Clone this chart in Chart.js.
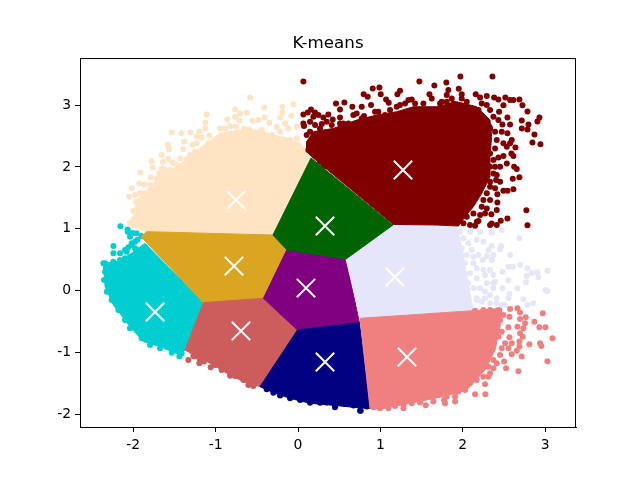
<!DOCTYPE html>
<html>
<head>
<meta charset="utf-8">
<style>
  html, body { margin: 0; padding: 0; background: #fff; }
  canvas { display: block; }
</style>
<script src="https://cdn.jsdelivr.net/npm/chart.js@4"></script>
</head>
<body>
<canvas id="chart" width="640" height="480"></canvas>
<script>
const xTicks = [-2, -1, 0, 1, 2, 3];
const yTicks = [-2, -1, 0, 1, 2, 3];
const xTickLabels = ['-2', '-1', '0', '1', '2', '3'];
const yTickLabels = ['-2', '-1', '0', '1', '2', '3'];
const chartTitle = 'K-means';

// centroides (marcas blancas)
const centroids = [[-0.752, 1.464], [1.274, 1.95], [0.328, 1.044], [-0.777, 0.396], [0.097, 0.04],
  [1.177, 0.218], [-1.735, -0.348], [-0.692, -0.655], [0.328, -1.157], [1.323, -1.076]];

// zona densa de cada cluster (contorno) y puntos sueltos alrededor
const creamHull = [[-0.3, 0.9], [0.158, 2.144], [0.024, 2.387], [-0.134, 2.467], [-0.3, 2.516], [-0.461, 2.597],
  [-0.704, 2.597], [-0.947, 2.549], [-1.105, 2.387], [-1.311, 2.192], [-1.469, 1.998], [-1.675, 1.853],
  [-1.797, 1.675], [-1.955, 1.464], [-2.003, 1.189], [-2.015, 1.027], [-1.833, 0.947]];
const creamPoints = [[-0.582, 3.125], [-0.764, 2.931], [-0.622, 2.877], [-0.703, 2.866], [-0.408, 2.963], [-0.19, 2.974],
  [-0.056, 3.012], [-0.19, 2.877], [-1.108, 2.85], [-1.124, 2.72], [-1.124, 2.623], [-0.857, 2.769], [-0.764, 2.812],
  [-0.711, 2.747], [-0.554, 2.747], [-0.481, 2.758], [-0.408, 2.801], [-0.347, 2.715], [-0.218, 2.801], [-0.08, 2.828],
  [-0.015, 2.65], [-0.157, 2.704], [-1.533, 2.559], [-1.416, 2.543], [-1.306, 2.559], [-1.197, 2.575], [-1.076, 2.51],
  [-0.946, 2.623], [-0.825, 2.661], [-0.756, 2.65], [-0.655, 2.623], [-0.59, 2.607], [-1.582, 2.359], [-1.565, 2.284],
  [-1.383, 2.408], [-1.282, 2.359], [-1.391, 2.284], [-1.654, 2.192], [-1.574, 2.133], [-1.31, 2.192], [-1.351, 2.127],
  [-1.776, 2.09], [-1.525, 2.068], [-1.642, 2.084], [-1.764, 1.992], [-1.654, 1.976], [-1.913, 1.911], [-1.683, 1.895],
  [-1.788, 1.831], [-1.926, 1.733], [-1.865, 1.717], [-2.019, 1.653], [-2.051, 1.518], [-1.918, 1.572], [-1.966, 1.437],
  [-1.998, 1.291], [-1.007, 2.435], [-1.169, 2.472], [-0.845, 2.532], [-1.007, 2.3], [-0.906, 2.408], [-0.258, 2.65],
  [-0.096, 2.435], [-1.715, 1.814], [-1.634, 1.868], [-1.553, 1.949], [-1.472, 2.03], [-1.432, 2.138], [-1.25, 2.111],
  [-1.25, 2.246], [-1.169, 2.165], [-1.23, 2.381], [-1.088, 2.381], [-0.946, 2.219], [-0.825, 2.327], [-0.744, 2.408],
  [-0.703, 2.516], [-0.562, 2.516], [-0.44, 2.596], [-0.319, 2.516], [-0.218, 2.57], [-0.117, 2.623], [-0.015, 2.462],
  [-0.015, 2.354], [0.065, 2.273], [-0.865, 2.435], [-0.886, 2.623], [-1.23, 2.489], [-1.432, 2.003], [-1.614, 1.949],
  [-1.695, 1.76], [-1.796, 1.707], [-1.877, 1.572], [-1.776, 1.572], [-1.978, 1.545], [-1.918, 1.383], [-1.998, 1.14],
  [-2.039, 1.087], [-1.958, 1.194]];

const darkredHull = [[0.166, 2.165], [1.158, 1.07], [1.684, 1.059], [1.947, 1.043], [2.028, 1.194], [2.129, 1.356],
  [2.23, 1.572], [2.33, 1.841], [2.33, 2.165], [2.35, 2.489], [2.33, 2.758], [2.17, 2.974], [1.927, 3.055],
  [1.684, 2.974], [1.4, 2.974], [1.198, 2.893], [0.955, 2.839], [0.712, 2.758], [0.429, 2.623], [0.186, 2.57],
  [0.105, 2.408], [0.105, 2.246]];
const darkredPoints = [[0.065, 3.384], [1.473, 3.384], [1.655, 3.319], [1.801, 3.368], [1.971, 3.465], [2.36, 3.465],
  [1.951, 3.265], [0.907, 3.271], [0.988, 3.287], [0.797, 3.174], [0.846, 3.136], [1.004, 3.174], [1.238, 3.233],
  [1.206, 3.174], [1.069, 3.093], [1.101, 3.039], [1.595, 3.174], [1.825, 3.244], [1.805, 3.163], [1.987, 3.174],
  [2.157, 3.174], [2.21, 3.125], [2.291, 3.146], [2.38, 3.125], [2.432, 3.093], [2.517, 3.125], [2.574, 3.082],
  [2.614, 3.082], [2.687, 3.093], [2.724, 2.996], [2.493, 2.996], [2.44, 2.893], [2.785, 2.898], [2.542, 2.801],
  [2.716, 2.753], [2.93, 2.801], [2.906, 2.737], [2.797, 2.688], [2.716, 2.623], [2.785, 2.607], [2.574, 2.688],
  [2.481, 2.688], [2.87, 2.526], [2.845, 2.397], [2.942, 2.365], [2.542, 2.543], [2.594, 2.435], [2.574, 2.381],
  [2.639, 2.316], [2.59, 2.219], [2.614, 2.176], [2.493, 2.176], [2.432, 2.154], [2.623, 2.003], [2.655, 1.965],
  [2.687, 1.831], [2.606, 1.809], [2.453, 2.003], [2.372, 1.895], [2.453, 1.761], [2.404, 1.787], [2.614, 1.637],
  [2.542, 1.615], [2.493, 1.615], [2.42, 1.556], [2.42, 1.426], [2.412, 1.302], [2.347, 1.232], [2.27, 1.248],
  [2.542, 1.167], [2.461, 1.129], [2.412, 1.059], [2.331, 1.059], [2.772, 1.297], [2.785, 1.054], [2.19, 1.124],
  [2.149, 1.049], [2.331, 1.68], [2.25, 1.464], [2.323, 2.65], [2.412, 2.435], [2.493, 2.381], [2.372, 2.111],
  [2.331, 2.003], [0.461, 3.028], [0.563, 3.044], [0.66, 2.974], [0.51, 2.931], [0.773, 2.974], [0.886, 3.001],
  [0.158, 2.931], [0.118, 2.882], [0.065, 2.85], [0.206, 2.882], [0.186, 2.812], [0.146, 2.731], [0.073, 2.661],
  [0.308, 2.801], [0.368, 2.85], [0.421, 2.769], [0.288, 2.693], [0.51, 2.801], [0.55, 2.704], [0.712, 2.866],
  [0.801, 2.823], [0.975, 2.893], [1.238, 3.001], [1.38, 3.093], [1.744, 3.055], [1.866, 3.109],
  [0.247, 2.839], [0.348, 2.731], [0.409, 2.677], [0.207, 2.677], [0.267, 2.623], [0.146, 2.57], [0.51, 2.704],
  [0.611, 2.704], [0.672, 2.839], [0.773, 2.785], [0.874, 2.758], [0.975, 2.785], [1.056, 2.839], [0.935, 2.893],
  [1.117, 2.92], [1.198, 2.974], [1.299, 3.028], [1.421, 3.028], [1.522, 3.028], [1.623, 3.109], [1.724, 3.028],
  [1.886, 3.028], [2.048, 3.055], [2.109, 2.947], [2.23, 3.028], [2.331, 2.92], [2.372, 2.812], [2.432, 2.758],
  [2.331, 2.623], [2.392, 2.57], [2.473, 2.57], [2.534, 2.327], [2.392, 2.3], [2.331, 2.219], [2.534, 2.057],
  [2.392, 2.003], [2.412, 1.868], [2.331, 1.761], [2.392, 1.653], [2.291, 1.572], [2.331, 1.464], [2.23, 1.356],
  [2.291, 1.329], [2.129, 1.248], [2.048, 1.194], [2.21, 1.221], [2.351, 1.086], [2.088, 1.059], [2.17, 1.113],
  [2.008, 1.087], [0.065, 2.704], [0.105, 2.516], [0.126, 2.273], [0.207, 2.192], [0.267, 2.084], [0.308, 2.003],
  [2.27, 2.003], [2.291, 2.435], [2.21, 2.65], [2.17, 2.812], [2.19, 2.92], [2.291, 3.001], [1.987, 3.109],
  [1.805, 3.055], [1.34, 3.082]];

const greenHull = [[0.158, 2.144], [1.153, 1.061], [0.583, 0.51], [-0.134, 0.656], [-0.304, 0.898]];

const lavenderHull = [[1.153, 1.076], [1.93, 1.011], [2.003, 0.607], [2.052, 0.218], [2.088, -0.04], [2.125, -0.316],
  [0.753, -0.445], [0.583, 0.51]];
const lavenderPoints = [[2.473, 0.979], [2.351, 0.936], [2.21, 0.952], [2.088, 0.952], [2.169, 0.817], [2.25, 0.79],
  [2.351, 0.72], [2.465, 0.72], [2.687, 0.844], [2.452, 0.666], [2.574, 0.575], [2.371, 0.575], [2.291, 0.559],
  [2.351, 0.494], [2.189, 0.575], [2.554, 0.386], [2.606, 0.386], [2.695, 0.413], [2.784, 0.359], [2.481, 0.305],
  [2.25, 0.332], [2.371, 0.251], [2.837, 0.278], [2.906, 0.294], [3.027, 0.321], [2.918, 0.213], [2.776, 0.235],
  [2.768, 0.132], [2.554, 0.16], [2.392, 0.143], [2.291, 0.116], [2.481, 0.035], [2.663, 0.035], [2.371, 0.035],
  [2.21, 0.035], [3.006, 0.008], [3.027, -0.013], [2.566, -0.056], [2.736, -0.143], [2.857, -0.207], [2.784, -0.234],
  [2.554, -0.126], [2.412, -0.207], [2.23, -0.18], [2.169, -0.153], [2.331, -0.072], [2.513, -0.234], [2.129, 0.44],
  [1.967, 0.952], [2.007, 0.844], [2.068, 0.763], [2.108, 0.656], [1.987, 0.683], [2.048, 0.575], [2.129, 0.548],
  [2.027, 0.44], [2.169, 0.359], [2.088, 0.278], [2.169, 0.197], [2.068, 0.116], [2.129, 0.035], [2.048, -0.018],
  [2.169, -0.126], [2.331, -0.207], [2.27, -0.018], [2.27, 0.251], [2.331, 0.332], [2.371, 0.116], [2.311, 0.656],
  [2.242, 0.494], [2.412, -0.126], [2.473, -0.234], [2.27, -0.126]];

const coralHull = [[0.753, -0.45], [2.129, -0.326], [2.473, -0.288], [2.452, -0.585], [2.392, -0.962], [2.27, -1.286],
  [2.048, -1.609], [1.764, -1.717], [1.36, -1.825], [0.995, -1.922], [0.874, -1.906]];
const coralPoints = [[2.574, -0.299], [2.663, -0.288], [2.566, -0.423], [2.695, -0.358], [2.764, -0.434], [2.695, -0.461],
  [2.756, -0.531], [2.663, -0.585], [2.736, -0.612], [2.869, -0.504], [2.971, -0.369], [2.93, -0.596], [3.003, -0.596],
  [3.088, -0.774], [2.938, -0.854], [2.954, -0.897], [2.808, -0.871], [3.027, -1.146], [2.695, -0.693], [2.728, -0.747],
  [2.554, -0.596], [2.566, -0.757], [2.513, -0.854], [2.594, -0.854], [2.687, -0.827], [2.687, -0.908], [2.554, -0.935],
  [2.715, -1.07], [2.655, -0.973], [2.594, -1.032], [2.501, -1.151], [2.525, -1.259], [2.675, -1.307], [2.371, -1.259],
  [2.311, -1.394], [2.27, -1.518], [2.274, -1.68], [2.149, -1.68], [1.906, -1.798], [1.785, -1.825], [1.55, -1.857],
  [1.279, -1.906], [1.097, -1.906], [2.493, -0.396], [2.432, -0.315], [2.331, -0.315], [2.25, -0.315], [2.149, -0.326],
  [2.452, -0.477], [2.473, -0.666], [2.432, -0.747], [2.473, -0.935], [2.452, -1.043], [2.371, -1.124], [2.412, -1.178],
  [2.311, -1.232], [2.25, -1.232], [2.331, -1.34], [2.25, -1.394], [2.169, -1.448], [2.088, -1.502], [2.027, -1.609],
  [1.946, -1.636], [1.906, -1.717], [1.805, -1.717], [1.772, -1.771], [1.643, -1.798], [1.481, -1.814], [1.38, -1.825],
  [1.178, -1.868], [0.995, -1.906], [0.915, -1.89], [1.279, -1.852]];

const navyHull = [[-0.007, -0.639], [0.745, -0.52], [0.874, -1.906], [0.753, -1.9], [0.449, -1.86], [0.146, -1.825],
  [-0.096, -1.745], [-0.299, -1.653], [-0.461, -1.556]];
const navyPoints = [[0.753, -1.944], [0.449, -1.89], [-0.38, -1.599], [-0.299, -1.653], [-0.218, -1.701], [-0.096, -1.745],
  [0.025, -1.771], [0.146, -1.815], [0.268, -1.815], [0.348, -1.814], [0.449, -1.879], [0.571, -1.836], [0.672, -1.863],
  [0.761, -1.944], [0.834, -1.879]];

const purpleHull = [[-0.137, 0.655], [0.583, 0.51], [0.745, -0.52], [-0.007, -0.639], [-0.42, -0.127]];

const goldHull = [[-0.299, 0.898], [-0.137, 0.655], [-0.42, -0.127], [-1.149, -0.197], [-1.905, 0.871], [-1.837, 0.952]];

const indianredHull = [[-1.149, -0.197], [-0.42, -0.127], [-0.007, -0.639], [-0.461, -1.556], [-0.663, -1.475],
  [-0.865, -1.34], [-1.027, -1.205], [-1.27, -1.043], [-1.371, -0.962]];
const indianredPoints = [[-1.331, -1.124], [-1.25, -1.07], [-1.197, -1.178], [-1.141, -1.151], [-1.06, -1.243],
  [-0.825, -1.378], [-0.764, -1.383], [-0.602, -1.529], [-0.542, -1.545], [-1.27, -1.06], [-1.141, -1.097], [-1.007, -1.205],
  [-0.926, -1.286], [-0.663, -1.448], [-1.19, -1.113], [-0.744, -1.313]];

const cyanHull = [[-1.149, -0.197], [-1.371, -0.962], [-1.432, -1.043], [-1.675, -0.909], [-1.877, -0.828], [-2.039, -0.585],
  [-2.241, -0.234], [-2.342, 0.062], [-2.363, 0.44], [-2.12, 0.483], [-2.0, 0.628], [-1.857, 0.763]];
const cyanPoints = [[-2.241, 0.72], [-2.241, 0.601], [-2.16, 0.601], [-2.1, 0.655], [-2.019, 0.925], [-1.958, 0.925],
  [-2.067, 0.952], [-2.039, 0.871], [-1.978, 0.79], [-2.019, 0.736], [-1.44, -1.07], [-2.363, 0.44], [-2.156, 1.038],
  [-2.067, 0.989], [-2.0, 0.925], [-2.342, 0.44], [-2.241, 0.467], [-2.16, 0.494], [-2.079, 0.628], [-2.019, 0.763],
  [-1.978, 0.682], [-1.918, 0.655], [-1.857, 0.709], [-2.039, 0.548], [-1.918, 0.494], [-1.816, 0.601], [-1.776, 0.521],
  [-2.342, 0.305], [-2.355, 0.17], [-2.322, -0.019], [-2.262, -0.154], [-2.181, -0.315], [-2.1, -0.477], [-2.039, -0.612],
  [-1.897, -0.774], [-1.796, -0.882], [-1.675, -0.936], [-1.533, -1.006], [-1.412, -1.016], [-2.1, 0.52], [-2.06, 0.7],
  [-1.95, 0.82], [-1.9, 0.88]];

function hullSet(data, color) {
  return {
    data: data.concat([data[0]]),
    showLine: true,
    fill: 'shape',
    tension: 0,
    borderColor: color,
    backgroundColor: color,
    borderWidth: 1,
    pointRadius: 0
  };
}

function pointSet(data, color) {
  return {
    data: data,
    showLine: false,
    backgroundColor: color,
    borderColor: color,
    pointRadius: 3,
    pointBorderWidth: 0
  };
}

// de abajo hacia arriba; Chart.js pinta el primer dataset encima, por eso el reverse
const layers = [
  hullSet(cyanHull, '#00ced1'), pointSet(cyanPoints, '#00ced1'),
  hullSet(creamHull, '#ffe4c4'), pointSet(creamPoints, '#ffe4c4'),
  hullSet(goldHull, '#daa520'),
  hullSet(indianredHull, '#cd5c5c'), pointSet(indianredPoints, '#cd5c5c'),
  hullSet(purpleHull, '#800080'),
  hullSet(navyHull, '#000080'), pointSet(navyPoints, '#000080'),
  hullSet(lavenderHull, '#e6e6fa'), pointSet(lavenderPoints, '#e6e6fa'),
  hullSet(coralHull, '#f08080'), pointSet(coralPoints, '#f08080'),
  hullSet(darkredHull, '#800000'), pointSet(darkredPoints, '#800000'),
  hullSet(greenHull, '#006400'),
  {
    data: centroids,
    showLine: false,
    pointStyle: 'crossRot',
    pointRadius: 13,
    pointBorderWidth: 2,
    borderColor: '#fff',
    backgroundColor: '#fff'
  }
];

// marco completo como el de matplotlib
const frame = {
  id: 'frame',
  afterDraw(chart) {
    const { ctx, chartArea: a } = chart;
    ctx.save();
    ctx.strokeStyle = '#000';
    ctx.lineWidth = 1;
    ctx.strokeRect(a.left + 0.5, a.top + 0.5, a.right - a.left - 1, a.bottom - a.top);
    ctx.restore();
  }
};

const tickFont = { family: 'DejaVu Sans', size: 13.9 };

new Chart(document.getElementById('chart').getContext('2d'), {
  type: 'scatter',
  data: { datasets: layers.reverse() },
  plugins: [frame],
  options: {
    responsive: false,
    animation: false,
    devicePixelRatio: 1,
    layout: { padding: { top: 0, right: 64, bottom: 0, left: 0 } },
    plugins: {
      legend: { display: false },
      tooltip: { enabled: false },
      title: {
        display: true,
        fullSize: false,
        text: chartTitle,
        color: '#000',
        font: { family: 'DejaVu Sans', size: 16.7, weight: 'normal', lineHeight: 1.2 },
        padding: { top: 34, bottom: 4 }
      }
    },
    scales: {
      x: {
        type: 'linear',
        min: -2.646,
        max: 3.374,
        afterBuildTicks: s => { s.ticks = xTicks.map(v => ({ value: v })); },
        afterFit: s => { s.height = 53; },
        grid: { drawOnChartArea: false, drawTicks: true, tickLength: 5, tickColor: '#000' },
        border: { color: '#000' },
        ticks: {
          color: '#000',
          font: tickFont,
          padding: 5,
          maxRotation: 0,
          callback: (v, i) => xTickLabels[i]
        }
      },
      y: {
        type: 'linear',
        min: -2.209,
        max: 3.762,
        afterBuildTicks: s => { s.ticks = yTicks.map(v => ({ value: v })); },
        afterFit: s => { s.width = 80; },
        grid: { drawOnChartArea: false, drawTicks: true, tickLength: 5, tickColor: '#000' },
        border: { color: '#000' },
        ticks: {
          color: '#000',
          font: tickFont,
          padding: 4,
          callback: (v, i) => yTickLabels[i]
        }
      }
    }
  }
});
</script>
</body>
</html>
